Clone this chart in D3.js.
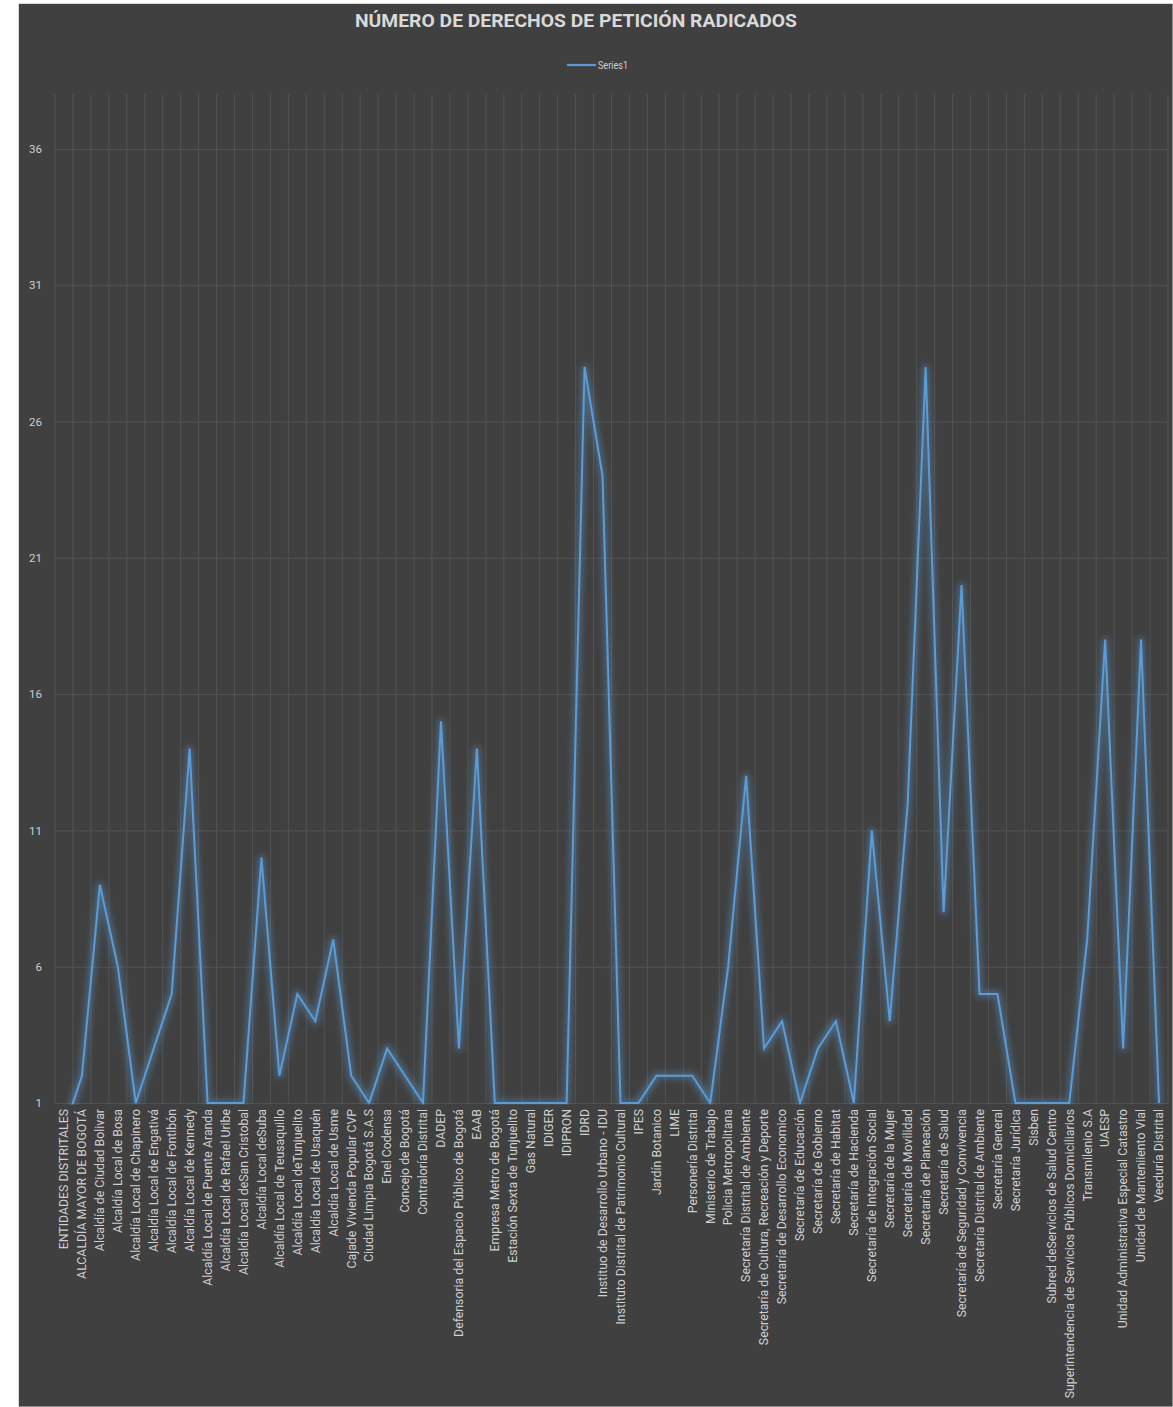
<!DOCTYPE html>
<html>
<head>
<meta charset="utf-8">
<script src="https://cdn.jsdelivr.net/npm/d3@7/dist/d3.min.js"></script>
<style>
  body { margin: 0; background: #ffffff; }
  svg { display: block; }
</style>
</head>
<body>
<div id="chart"></div>
<script>
// Data
const categories = [
  "ENTIDADES DISTRITALES",
  "ALCALDÍA MAYOR DE BOGOTÁ",
  "Alcaldía de Ciudad Bolivar",
  "Alcaldía Local de Bosa",
  "Alcaldía Local de Chapinero",
  "Alcaldía Local de Engativá",
  "Alcaldía Local de Fontibón",
  "Alcaldía Local de Kennedy",
  "Alcaldía Local de Puente Aranda",
  "Alcaldía Local de Rafael Uribe",
  "Alcaldía Local deSan Cristobal",
  "Alcaldía Local deSuba",
  "Alcaldía Local de Teusaquillo",
  "Alcaldía Local deTunjuelito",
  "Alcaldía Local de Usaquén",
  "Alcaldía Local de Usme",
  "Cajade Vivienda Popular CVP",
  "Ciudad Limpia Bogotá S.A.S",
  "Enel Codensa",
  "Concejo de Bogotá",
  "Contraloría Distrital",
  "DADEP",
  "Defensoria del Espacio Público de Bogotá",
  "EAAB",
  "Empresa Metro de Bogotá",
  "Estación Sexta de Tunjuelito",
  "Gas Natural",
  "IDIGER",
  "IDIPRON",
  "IDRD",
  "Instituo de Desarrollo Urbano - IDU",
  "Instituto Distrital de Patrimonio Cultural",
  "IPES",
  "Jardín Botanico",
  "LIME",
  "Personería Distrital",
  "Ministerio de Trabajo",
  "Policia Metropolitana",
  "Secretaría  Distrital de Ambiente",
  "Secretaría de Cultura, Recreación y Deporte",
  "Secretaría de Desarrollo Economico",
  "Secretaría de Educación",
  "Secretaría de Gobierno",
  "Secretaría de Habitat",
  "Secretaría de Hacienda",
  "Secretaría de Integración Social",
  "Secretaría de la Mujer",
  "Secretaría de Movilidad",
  "Secretaría de Planeación",
  "Secretaría de Salud",
  "Secretaría de Seguridad y Convivencia",
  "Secretaría Distrital de Ambiente",
  "Secretaría General",
  "Secretaría Jurídica",
  "Sisben",
  "Subred deServicios de Salud Centro",
  "Superintendencia de Servicios Públicos Domiciliarios",
  "Transmilenio S.A",
  "UAESP",
  "Unidad Administrativa Especial Catastro",
  "Unidad de Manteniiento Vial",
  "Veeduría Distrital"
];

const series1 = [
  0, 2, 9, 6, 1, 3, 5, 14, 1, 1,
  1, 10, 2, 5, 4, 7, 2, 1, 3, 2,
  1, 15, 3, 14, 1, 1, 1, 1, 1, 28,
  24, 1, 1, 2, 2, 2, 1, 6, 13, 3,
  4, 1, 3, 4, 1, 11, 4, 12, 28, 8,
  20, 5, 5, 1, 1, 1, 1, 7, 18, 3,
  18, 1
];

const yTicks = [1, 6, 11, 16, 21, 26, 31, 36];
const seriesName = "Series1";
const title = "NÚMERO DE DERECHOS DE PETICIÓN RADICADOS";

// Sizes
const W = 1173, H = 1407;
const plot = { left: 55, right: 1168, top: 94.4, bottom: 1103 };
const lineColor = "#5b9bd5";
const textColor = "#cfcfcf";
const gridColor = "#535353";
const font = "Roboto, 'DejaVu Sans', sans-serif";

const svg = d3.select("#chart")
  .append("svg")
  .attr("width", W)
  .attr("height", H);

// glow filter for the line
const defs = svg.append("defs");
const glow = defs.append("filter")
  .attr("id", "glow")
  .attr("x", "-20%").attr("y", "-20%")
  .attr("width", "140%").attr("height", "140%");
glow.append("feMorphology")
  .attr("in", "SourceGraphic")
  .attr("operator", "dilate")
  .attr("radius", 2)
  .attr("result", "fat");
glow.append("feGaussianBlur")
  .attr("in", "fat")
  .attr("stdDeviation", 3)
  .attr("result", "blur");
glow.append("feComponentTransfer")
  .attr("in", "blur")
  .attr("result", "soft")
  .append("feFuncA")
  .attr("type", "linear")
  .attr("slope", 0.45);
const merge = glow.append("feMerge");
merge.append("feMergeNode").attr("in", "soft");
merge.append("feMergeNode").attr("in", "SourceGraphic");

defs.append("clipPath")
  .attr("id", "plotClip")
  .append("rect")
  .attr("x", plot.left - 10)
  .attr("y", plot.top - 10)
  .attr("width", plot.right - plot.left + 20)
  .attr("height", plot.bottom - plot.top + 11.5);

// chart background
svg.append("rect")
  .attr("x", 18.5)
  .attr("y", 3.5)
  .attr("width", W - 18.5)
  .attr("height", H - 3.5)
  .attr("fill", "#404040")
  .attr("stroke", "#d9d9d9")
  .attr("stroke-width", 1);

// Scales
const x = d3.scaleBand()
  .domain(categories)
  .range([plot.left, plot.right])
  .padding(0);

const y = d3.scaleLinear()
  .domain([1, 38])
  .range([plot.bottom, plot.top]);

// vertical gridlines at category boundaries
const bounds = categories.map(c => x(c)).concat([x(categories[categories.length - 1]) + x.bandwidth()]);
svg.append("g")
  .selectAll("line")
  .data(bounds)
  .enter()
  .append("line")
  .attr("x1", d => d)
  .attr("x2", d => d)
  .attr("y1", plot.top)
  .attr("y2", plot.bottom)
  .attr("stroke", gridColor)
  .attr("stroke-width", 1);

// horizontal gridlines + y labels
const yAxis = svg.append("g")
  .attr("transform", `translate(${plot.left},0)`)
  .call(d3.axisLeft(y).tickValues(yTicks).tickSize(-(plot.right - plot.left)).tickPadding(13));
yAxis.select(".domain").remove();
yAxis.selectAll(".tick line")
  .attr("stroke", gridColor);
yAxis.selectAll(".tick text")
  .attr("fill", textColor)
  .attr("font-family", font)
  .attr("font-size", 11.5);

// x axis labels
const xAxis = svg.append("g")
  .attr("transform", `translate(0,${plot.bottom})`)
  .call(d3.axisBottom(x).tickSize(0));
xAxis.select(".domain")
  .attr("stroke", gridColor);
xAxis.selectAll(".tick text")
  .attr("transform", "rotate(-90)")
  .attr("x", -6)
  .attr("y", 0)
  .attr("dy", "0.35em")
  .attr("text-anchor", "end")
  .attr("fill", textColor)
  .attr("font-family", font)
  .attr("font-size", 12.3);

// the line
const line = d3.line()
  .x((d, i) => x(categories[i]) + x.bandwidth() / 2)
  .y(d => y(d));

svg.append("g")
  .attr("clip-path", "url(#plotClip)")
  .append("path")
  .datum(series1)
  .attr("fill", "none")
  .attr("stroke", lineColor)
  .attr("stroke-width", 2)
  .attr("stroke-linejoin", "miter")
  .attr("filter", "url(#glow)")
  .attr("d", line);

// title
svg.append("text")
  .attr("x", 576)
  .attr("y", 27)
  .attr("text-anchor", "middle")
  .attr("font-family", font)
  .attr("font-weight", "bold")
  .attr("font-size", 19)
  .attr("fill", "#d9d9d9")
  .attr("textLength", 442)
  .attr("lengthAdjust", "spacingAndGlyphs")
  .text(title);

// legend
const legend = svg.append("g");
legend.append("line")
  .attr("x1", 567)
  .attr("x2", 596)
  .attr("y1", 65)
  .attr("y2", 65)
  .attr("stroke", lineColor)
  .attr("stroke-width", 2.2);
legend.append("text")
  .attr("x", 598)
  .attr("y", 68.5)
  .attr("font-family", font)
  .attr("font-size", 10)
  .attr("fill", textColor)
  .attr("textLength", 30)
  .attr("lengthAdjust", "spacingAndGlyphs")
  .text(seriesName);
</script>
</body>
</html>
